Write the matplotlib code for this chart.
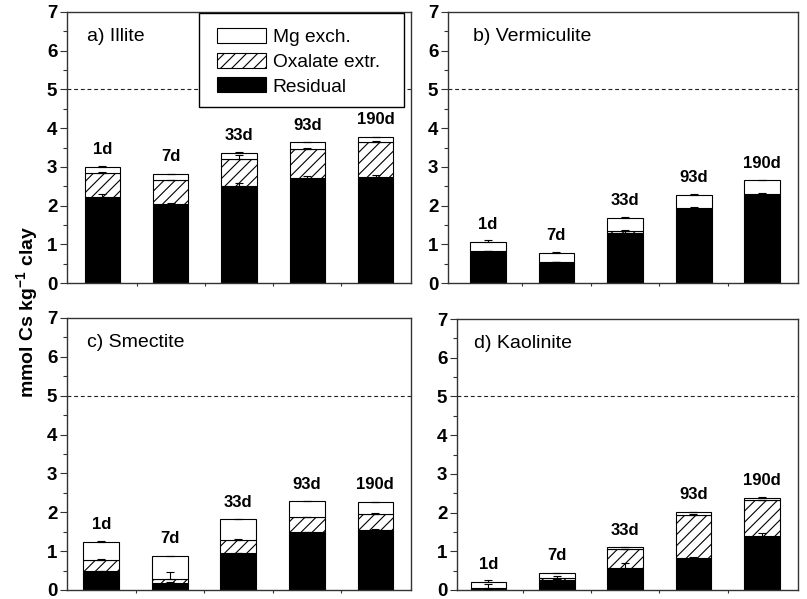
import matplotlib
matplotlib.use("Agg")
import matplotlib.pyplot as plt
from matplotlib.patches import Patch, Rectangle
from matplotlib.ticker import MultipleLocator, FixedLocator, NullFormatter
import numpy as np

plt.rcParams['font.family'] = ['Liberation Sans', 'DejaVu Sans']
plt.rcParams['mathtext.fontset'] = 'custom'
plt.rcParams['mathtext.rm'] = 'Liberation Sans'
plt.rcParams['mathtext.bf'] = 'Liberation Sans:bold'
plt.rcParams['hatch.linewidth'] = 0.8

days = ["1d", "7d", "33d", "93d", "190d"]
series_names = ["Mg exch.", "Oxalate extr.", "Residual"]

# Cs fractions (mmol Cs / kg clay) per clay mineral and ageing time
illite_res = [2.22, 2.04, 2.51, 2.71, 2.75]
illite_ox = [0.62, 0.61, 0.69, 0.76, 0.89]
illite_mg = [0.16, 0.16, 0.17, 0.16, 0.13]
illite_res_err = [0.08, 0.02, 0.07, 0.06, 0.05]
illite_ox_err = [0.02, 0.02, 0.11, 0.03, 0.02]
illite_mg_err = [0.01, 0.01, 0.01, 0.01, 0.01]

verm_res = [0.80, 0.54, 1.30, 1.92, 2.28]
verm_ox = [0.02, 0.00, 0.04, 0.03, 0.03]
verm_mg = [0.24, 0.24, 0.35, 0.33, 0.34]
verm_res_err = [0.03, 0.01, 0.08, 0.02, 0.02]
verm_ox_err = [0.01, 0.00, 0.01, 0.01, 0.01]
verm_mg_err = [0.04, 0.01, 0.01, 0.01, 0.02]

smec_res = [0.49, 0.18, 0.95, 1.48, 1.55]
smec_ox = [0.29, 0.11, 0.34, 0.39, 0.41]
smec_mg = [0.45, 0.58, 0.53, 0.41, 0.30]
smec_res_err = [0.01, 0.03, 0.01, 0.01, 0.01]
smec_ox_err = [0.02, 0.17, 0.02, 0.02, 0.02]
smec_mg_err = [0.02, 0.01, 0.01, 0.01, 0.01]

kaol_res = [0.02, 0.27, 0.57, 0.83, 1.40]
kaol_ox = [0.03, 0.03, 0.48, 1.10, 0.92]
kaol_mg = [0.16, 0.14, 0.05, 0.08, 0.06]
kaol_res_err = [0.00, 0.02, 0.13, 0.02, 0.07]
kaol_ox_err = [0.10, 0.05, 0.01, 0.03, 0.01]
kaol_mg_err = [0.05, 0.01, 0.01, 0.01, 0.01]

panels = [
    ("a) Illite", illite_res, illite_ox, illite_mg, illite_res_err, illite_ox_err, illite_mg_err),
    ("b) Vermiculite", verm_res, verm_ox, verm_mg, verm_res_err, verm_ox_err, verm_mg_err),
    ("c) Smectite", smec_res, smec_ox, smec_mg, smec_res_err, smec_ox_err, smec_mg_err),
    ("d) Kaolinite", kaol_res, kaol_ox, kaol_mg, kaol_res_err, kaol_ox_err, kaol_mg_err),
]

W, H = 807, 599
fig = plt.figure(figsize=(W / 100, H / 100), dpi=100)

# axes boxes in pixels: left, right, top, bottom
boxes = [(67, 411, 12, 283), (448, 798, 12, 283), (67, 411, 318, 590), (457, 798, 319, 590)]
xlims = [(0.48, 5.52), (0.42, 5.52), (0.50, 5.52), (0.54, 5.53)]
title_x = [0.058, 0.071, 0.058, 0.05]

spine_col = "#333333"
bw = 0.52

for i, (title, res, ox, mg, res_e, ox_e, mg_e) in enumerate(panels):
    l, r, t, b = boxes[i]
    ax = fig.add_axes([l / W, (H - b) / H, (r - l) / W, (b - t) / H])
    x = np.arange(1, len(days) + 1)
    res = np.array(res); ox = np.array(ox); mg = np.array(mg)
    ax.bar(x, res, bw, color="black", edgecolor="black", linewidth=0.8, zorder=2)
    ax.bar(x, ox, bw, bottom=res, color="white", edgecolor="black", hatch="///",
           linewidth=0.8, zorder=2)
    ax.bar(x, mg, bw, bottom=res + ox, color="white", edgecolor="black",
           linewidth=0.8, zorder=2)
    ekw = dict(fmt="none", ecolor="black", elinewidth=0.8, capsize=3, capthick=0.8, zorder=3)
    ax.errorbar(x, res, yerr=[np.zeros(5), res_e], **ekw)
    ax.errorbar(x, res + ox, yerr=[np.zeros(5), ox_e], **ekw)
    tot = res + ox + mg
    ax.errorbar(x, tot, yerr=[np.zeros(5), mg_e], **ekw)
    for xi, ti, lab in zip(x, tot, days):
        ax.annotate(lab, (xi, ti), xytext=(0, 7), textcoords="offset points",
                    ha="center", va="bottom", fontsize=12, fontweight="bold")
    ax.axhline(5, color="#222222", linestyle=(0, (3.5, 2.5)), linewidth=0.8, zorder=1)
    ax.set_ylim(0, 7)
    ax.set_xlim(*xlims[i])
    ax.yaxis.set_major_locator(MultipleLocator(1))
    ax.yaxis.set_minor_locator(MultipleLocator(0.5))
    ax.xaxis.set_major_locator(FixedLocator([]))
    ax.xaxis.set_minor_locator(FixedLocator([1.5, 2.5, 3.5, 4.5]))
    ax.xaxis.set_minor_formatter(NullFormatter())
    ax.tick_params(axis="y", which="major", direction="out", length=5, width=0.8,
                   color=spine_col, labelsize=13.5, pad=2)
    ax.tick_params(axis="y", which="minor", direction="out", length=3, width=0.8,
                   color=spine_col)
    ax.tick_params(axis="x", which="minor", direction="out", length=2, width=0.8,
                   color=spine_col)
    for lbl in ax.get_yticklabels():
        lbl.set_fontweight("bold")
    for sp in ax.spines.values():
        sp.set_color(spine_col)
        sp.set_linewidth(1.0)
    ax.text(title_x[i], 0.91, title, transform=ax.transAxes, fontsize=14,
            ha="left", va="center")
    if i == 0:
        # white legend frame that hides the reference line behind it
        frame = Rectangle((199 / W, (H - 107) / H), 205 / W, 94 / H,
                          transform=fig.transFigure, facecolor="white",
                          edgecolor="black", linewidth=1.0, zorder=4, clip_on=False)
        ax.add_patch(frame)
        handles = [Patch(facecolor="white", edgecolor="black", linewidth=0.8),
                   Patch(facecolor="white", edgecolor="black", hatch="///", linewidth=0.8),
                   Patch(facecolor="black", edgecolor="black", linewidth=0.8)]
        anchor = ax.transAxes.inverted().transform(
            fig.transFigure.transform((217 / W, (H - 28) / H)))
        leg = ax.legend(handles, series_names, loc="upper left",
                        bbox_to_anchor=tuple(anchor), fontsize=13.8,
                        handlelength=2.55, handleheight=0.83, labelspacing=0.34,
                        handletextpad=0.36, borderpad=0.0, borderaxespad=0.0,
                        frameon=False)
        leg.set_zorder(5)

fig.text(0.034, 0.48, "mmol Cs kg$^{\\mathbf{-1}}$ clay", rotation=90, ha="center",
         va="center", fontsize=14, fontweight="bold")

fig.savefig("out.png", dpi=100)
